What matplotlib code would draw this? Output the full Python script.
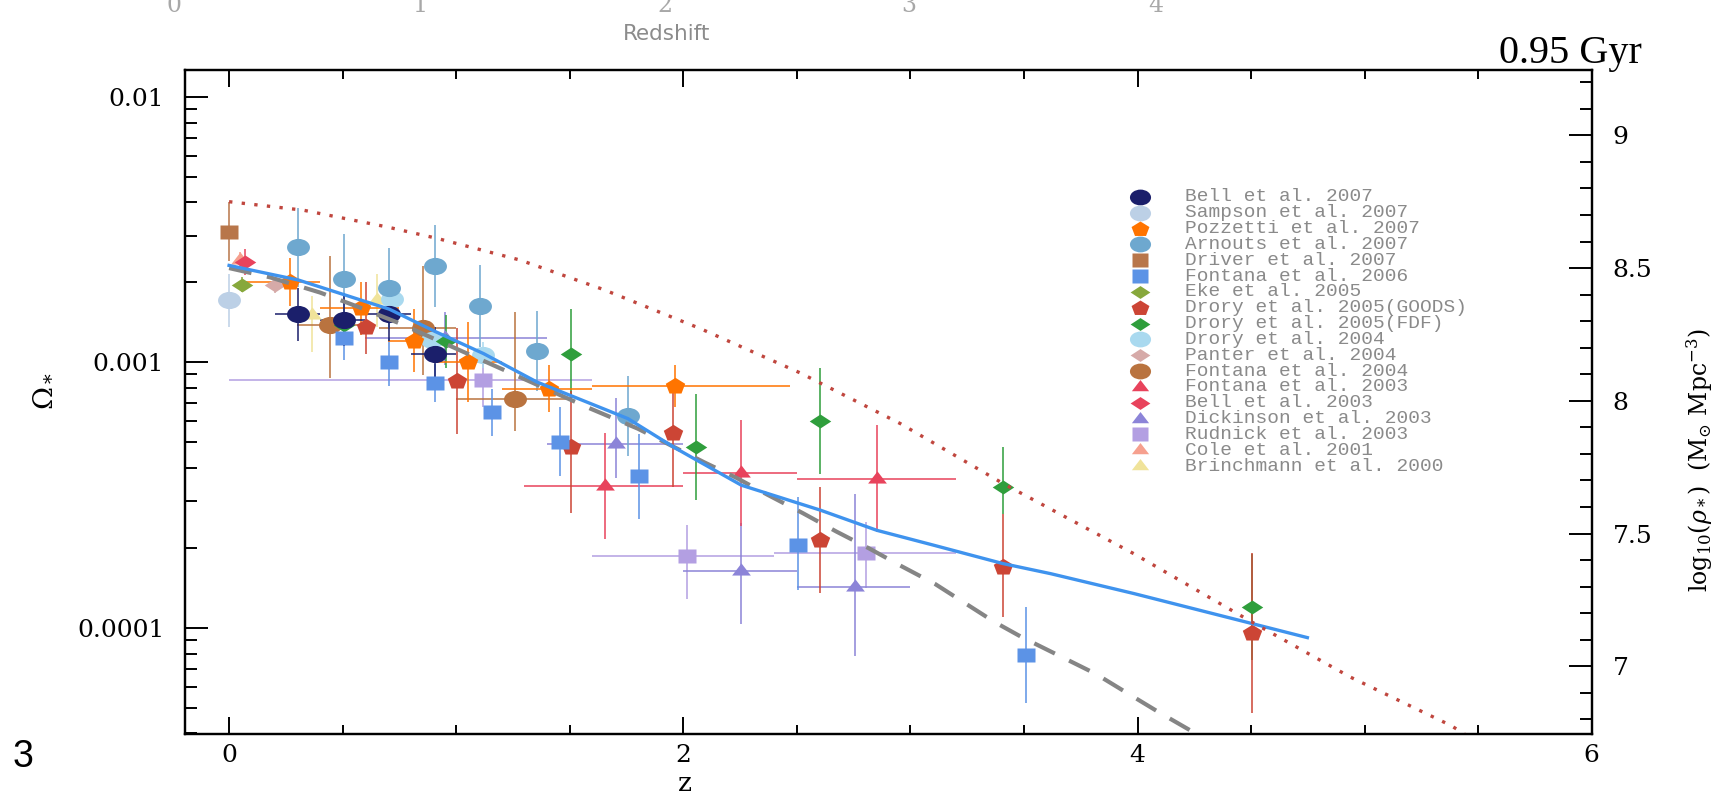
import numpy as np
import matplotlib
matplotlib.use("Agg")
import matplotlib.pyplot as plt
from matplotlib.path import Path
from matplotlib.transforms import Affine2D
from matplotlib.ticker import LogLocator, NullFormatter, FuncFormatter, MultipleLocator

# each row: z, log10(Omega_*), +err (dex), -err (dex), z_lo, z_hi
bell07 = [(0.305, -2.819, 0.10, 0.10, 0.20, 0.40),
          (0.505, -2.839, 0.10, 0.10, 0.40, 0.60),
          (0.706, -2.819, 0.10, 0.10, 0.60, 0.80),
          (0.906, -2.967, 0.10, 0.10, 0.80, 1.00)]
sampson07 = [(0.000, -2.766, 0.10, 0.10, None, None)]
pozzetti07 = [(0.270, -2.697, 0.09, 0.09, 0.05, 0.40),
              (0.580, -2.797, 0.10, 0.10, 0.40, 0.75),
              (0.813, -2.918, 0.12, 0.12, 0.70, 0.91),
              (1.054, -2.998, 0.15, 0.15, 0.91, 1.20),
              (1.407, -3.099, 0.09, 0.09, 1.20, 1.60),
              (1.965, -3.089, 0.08, 0.08, 1.60, 2.47)]
arnouts07 = [(0.305, -2.567, 0.15, 0.15, None, None),
             (0.505, -2.688, 0.17, 0.17, None, None),
             (0.706, -2.720, 0.15, 0.15, None, None),
             (0.906, -2.638, 0.155, 0.155, None, None),
             (1.106, -2.789, 0.155, 0.155, None, None),
             (1.355, -2.958, 0.15, 0.15, None, None),
             (1.757, -3.202, 0.15, 0.15, None, None)]
driver07 = [(0.000, -2.508, 0.11, 0.11, None, None)]
fontana06 = [(0.505, -2.908, 0.085, 0.085, None, None),
             (0.706, -2.998, 0.09, 0.09, None, None),
             (0.906, -3.078, 0.07, 0.07, None, None),
             (1.157, -3.189, 0.09, 0.09, None, None),
             (1.457, -3.300, 0.13, 0.13, None, None),
             (1.806, -3.429, 0.16, 0.16, None, None),
             (2.505, -3.689, 0.18, 0.17, None, None),
             (3.507, -4.102, 0.18, 0.18, None, None)]
eke05 = [(0.056, -2.707, 0.03, 0.03, None, None)]
drory05_goods = [(0.604, -2.867, 0.17, 0.10, None, None),
                 (1.005, -3.070, 0.20, 0.20, None, None),
                 (1.507, -3.319, 0.21, 0.25, None, None),
                 (1.955, -3.268, 0.17, 0.20, None, None),
                 (2.604, -3.668, 0.20, 0.20, None, None),
                 (3.407, -3.771, 0.20, 0.19, None, None),
                 (4.505, -4.020, 0.30, 0.30, None, None)]
drory05_fdf = [(0.505, -2.860, 0.05, 0.05, None, None),
               (0.955, -2.920, 0.10, 0.10, None, None),
               (1.505, -2.970, 0.17, 0.17, None, None),
               (2.057, -3.319, 0.20, 0.20, None, None),
               (2.604, -3.221, 0.20, 0.20, None, None),
               (3.407, -3.470, 0.15, 0.10, None, None),
               (4.505, -3.922, 0.20, 0.20, None, None)]
drory04 = [(0.717, -2.760, 0.05, 0.05, None, None),
           (0.893, -2.917, 0.05, 0.05, None, None),
           (1.120, -2.973, 0.05, 0.05, None, None)]
panter04 = [(0.203, -2.709, 0.03, 0.03, None, None)]
fontana04 = [(0.445, -2.860, 0.26, 0.20, 0.30, 0.60),
             (0.856, -2.869, 0.23, 0.18, 0.66, 1.00),
             (1.257, -3.139, 0.33, 0.12, 1.00, 1.50)]
fontana03 = [(1.656, -3.467, 0.20, 0.20, 1.30, 2.00),
             (2.256, -3.417, 0.20, 0.20, 2.00, 2.50),
             (2.853, -3.438, 0.20, 0.20, 2.50, 3.20)]
bell03 = [(0.070, -2.622, 0.05, 0.05, None, None)]
dickinson03 = [(0.950, -2.910, 0.10, 0.10, 0.60, 1.40),
               (1.705, -3.306, 0.17, 0.13, 1.40, 2.00),
               (2.256, -3.787, 0.18, 0.20, 2.00, 2.50),
               (2.755, -3.847, 0.35, 0.26, 2.50, 3.00)]
rudnick03 = [(1.120, -3.067, 0.10, 0.10, 0.00, 1.60),
             (2.016, -3.731, 0.12, 0.16, 1.60, 2.40),
             (2.805, -3.720, 0.12, 0.13, 2.40, 3.20)]
cole01 = [(0.050, -2.615, 0.03, 0.03, None, None)]
brinchmann00 = [(0.364, -2.822, 0.07, 0.14, None, None),
                (0.650, -2.766, 0.10, 0.10, None, None)]

# model curves (z, log10 Omega_*)
model_z = [0.0, 0.305, 0.706, 0.905, 1.12, 1.355, 1.634, 1.756, 1.957, 2.06,
           2.256, 2.604, 2.853, 3.103, 3.407, 3.617, 3.984, 4.748]
model_log = [-2.635, -2.69, -2.80, -2.883, -2.967, -3.074, -3.17, -3.212, -3.319, -3.369,
             -3.463, -3.557, -3.633, -3.689, -3.758, -3.796, -3.871, -4.037]
dashed_z = [0.0, 0.181, 0.40, 0.562, 0.753, 1.59, 1.80, 2.093, 2.236, 2.369, 2.526,
            2.673, 2.816, 2.963, 3.107, 3.37, 3.49, 3.815, 3.955, 4.094, 4.26]
dashed_log = [-2.645, -2.68, -2.737, -2.789, -2.854, -3.174, -3.25, -3.377, -3.436, -3.498, -3.568,
              -3.637, -3.70, -3.769, -3.834, -3.978, -4.035, -4.173, -4.246, -4.318, -4.40]
dotted_z = [0.0, 0.327, 0.695, 0.915, 1.282, 1.649, 2.075, 2.515, 2.956, 3.407,
            3.984, 4.505, 4.938, 5.38, 5.44]
dotted_log = [-2.395, -2.427, -2.49, -2.533, -2.615, -2.726, -2.873, -3.04, -3.231, -3.456,
              -3.721, -3.979, -4.186, -4.368, -4.40]

labels = ["Bell et al. 2007", "Sampson et al. 2007", "Pozzetti et al. 2007",
          "Arnouts et al. 2007", "Driver et al. 2007", "Fontana et al. 2006",
          "Eke et al. 2005", "Drory et al. 2005(GOODS)", "Drory et al. 2005(FDF)",
          "Drory et al. 2004", "Panter et al. 2004", "Fontana et al. 2004",
          "Fontana et al. 2003", "Bell et al. 2003", "Dickinson et al. 2003",
          "Rudnick et al. 2003", "Cole et al. 2001", "Brinchmann et al. 2000"]
datasets = [bell07, sampson07, pozzetti07, arnouts07, driver07, fontana06, eke05,
            drory05_goods, drory05_fdf, drory04, panter04, fontana04, fontana03,
            bell03, dickinson03, rudnick03, cole01, brinchmann00]
colors = ["#1b1f6b", "#bcd0e6", "#ff7400", "#6ea8cf", "#b8764a", "#5c93e6",
          "#87a83c", "#cc4535", "#2f9e3c", "#a9d9ef", "#d6aaa8", "#b9733f",
          "#e8435c", "#e8435c", "#8c84d8", "#b39fe2", "#f6a08e", "#f0e39a"]
shapes = ["o", "o", "p", "o", "s", "s", "d", "p", "d", "o", "d", "o",
          "^", "d", "^", "s", "^", "^"]

Y_LO, Y_HI = -4.40, -1.899
RIGHT_OFFSET = 11.145


def squashed(path, sy):
    return path.transformed(Affine2D().scale(1.0, sy))


MARKERS = {
    "o": (squashed(Path.unit_circle(), 0.75), 16.5),
    "p": (squashed(Path.unit_regular_polygon(5), 0.85), 14.0),
    "s": (squashed(Path.unit_rectangle().transformed(Affine2D().translate(-0.5, -0.5)), 0.85), 12.5),
    "d": (squashed(Path.unit_regular_polygon(4), 0.65), 15.5),
    "^": (squashed(Path.unit_regular_polygon(3), 0.75), 13.5),
}


def draw_survey(ax, rows, color, shape):
    arr = np.array([[np.nan if v is None else v for v in r] for r in rows], dtype=float)
    z, lg, eu, ed, zlo, zhi = arr.T
    om = 10 ** lg
    yerr = [om - 10 ** (lg - ed), 10 ** (lg + eu) - om]
    ax.errorbar(z, om, yerr=yerr, fmt="none", ecolor=color, elinewidth=1.3,
                alpha=0.85, zorder=1)
    has = ~np.isnan(zlo)
    if has.any():
        ax.errorbar(z[has], om[has], xerr=[z[has] - zlo[has], zhi[has] - z[has]],
                    fmt="none", ecolor=color, elinewidth=1.3, alpha=0.85, zorder=1)
    path, ms = MARKERS[shape]
    ax.plot(z, om, ls="none", marker=path, ms=ms, color=color, mec="none", zorder=3)


def main():
    plt.rcParams["mathtext.fontset"] = "dejavuserif"
    fig = plt.figure(figsize=(17.26, 8.02), dpi=100)
    ax = fig.add_axes([0.1072, 0.0848, 0.815, 0.8279])

    # draw in reverse so the first legend entries sit on top
    for rows, color, shape in reversed(list(zip(datasets, colors, shapes))):
        draw_survey(ax, rows, color, shape)

    ax.plot(dashed_z, 10 ** np.array(dashed_log), color="#858585", lw=3.0,
            ls=(0, (5.5, 3.8)), zorder=3.5)
    ax.plot(model_z, 10 ** np.array(model_log), color="#3f93ee", lw=2.4, zorder=4)
    ax.plot(dotted_z, 10 ** np.array(dotted_log), color="#c0463e", lw=2.4,
            ls=(0, (1, 2.8)), zorder=4)

    # legend by hand, rows packed tightly as in the original
    for i, (label, color, shape) in enumerate(zip(labels, colors, shapes)):
        y = 0.809 - i * 0.02385
        path, ms = MARKERS[shape]
        ax.plot([0.679], [y], transform=ax.transAxes, ls="none", marker=path,
                ms=ms * 0.92, color=color, mec="none", clip_on=False, zorder=5)
        ax.text(0.711, y, label, transform=ax.transAxes, va="center", ha="left",
                fontsize=14, family="Liberation Mono", color="#8a8a8a")

    ax.set_yscale("log")
    ax.set_xlim(-0.194, 6.0)
    ax.set_ylim(10 ** Y_LO, 10 ** Y_HI)
    ax.set_xticks([0, 2, 4, 6])
    ax.xaxis.set_minor_locator(MultipleLocator(0.5))
    ax.yaxis.set_major_locator(LogLocator(base=10, numticks=10))
    ax.yaxis.set_minor_locator(LogLocator(base=10, subs=np.arange(2, 10), numticks=20))
    ax.yaxis.set_minor_formatter(NullFormatter())
    ax.yaxis.set_major_formatter(FuncFormatter(lambda v, _: ("%.6f" % v).rstrip("0")))

    ax.tick_params(axis="both", which="both", direction="in", width=1.4)
    ax.tick_params(axis="x", which="major", length=12, top=True, labelsize=18, pad=7)
    ax.tick_params(axis="x", which="minor", length=6.5, top=True)
    ax.tick_params(axis="y", which="major", length=16.5, right=False, labelsize=18, pad=15)
    ax.tick_params(axis="y", which="minor", length=8.5, right=False)
    for lab in ax.get_xticklabels() + ax.get_yticklabels():
        lab.set_family("DejaVu Serif")

    ax2 = ax.twinx()
    ax2.set_ylim(Y_LO + RIGHT_OFFSET, Y_HI + RIGHT_OFFSET)
    ax2.yaxis.set_major_locator(MultipleLocator(0.5))
    ax2.yaxis.set_minor_locator(MultipleLocator(0.1))
    ax2.yaxis.set_major_formatter(FuncFormatter(lambda v, _: "%g" % v))
    ax2.tick_params(axis="y", which="major", direction="in", length=16.5, width=1.4,
                    labelsize=18, pad=15)
    ax2.tick_params(axis="y", which="minor", direction="in", length=8.5, width=1.4)
    for lab in ax2.get_yticklabels():
        lab.set_family("DejaVu Serif")
    for a in (ax, ax2):
        for sp in a.spines.values():
            sp.set_linewidth(1.6)

    ax.set_xlabel("z", fontsize=19, family="DejaVu Serif")
    ax.xaxis.set_label_coords(0.3554, -0.075)
    ax.xaxis.label.set_verticalalignment("center")
    ax.set_ylabel(r"$\Omega_*$", fontsize=20)
    ax.yaxis.set_label_coords(-0.1017, 0.5166)
    ax.yaxis.label.set_verticalalignment("center")
    ax2.set_ylabel(r"$\mathrm{log}_{10}(\rho_*)\ \ (\mathrm{M}_{\odot}\ \mathrm{Mpc}^{-3})$",
                   fontsize=17)
    ax2.yaxis.set_label_coords(1.077, 0.413)
    ax2.yaxis.label.set_verticalalignment("center")

    # leftovers of the neighbouring panel around the chart
    for zlab, xpix in zip(["0", "1", "2", "3", "4"], [174, 420, 665, 909, 1156]):
        fig.text(xpix / 1726, 1 - 17 / 802, zlab, ha="center", va="bottom",
                 fontsize=17, color="#a8a8a8", family="DejaVu Serif")
    fig.text(667 / 1726, 1 - 34 / 802, "Redshift", ha="center", va="center",
             fontsize=15.5, color="#8c8c8c", family="DejaVu Sans")
    fig.text(1642 / 1726, 1 - 53 / 802, "0.95 Gyr", ha="right", va="center",
             fontsize=29, family="Liberation Serif")
    fig.text(23 / 1726, 1 - 757 / 802, "3", ha="center", va="center",
             fontsize=27, family="Liberation Sans")

    fig.savefig("out.png", dpi=100)


if __name__ == "__main__":
    main()
